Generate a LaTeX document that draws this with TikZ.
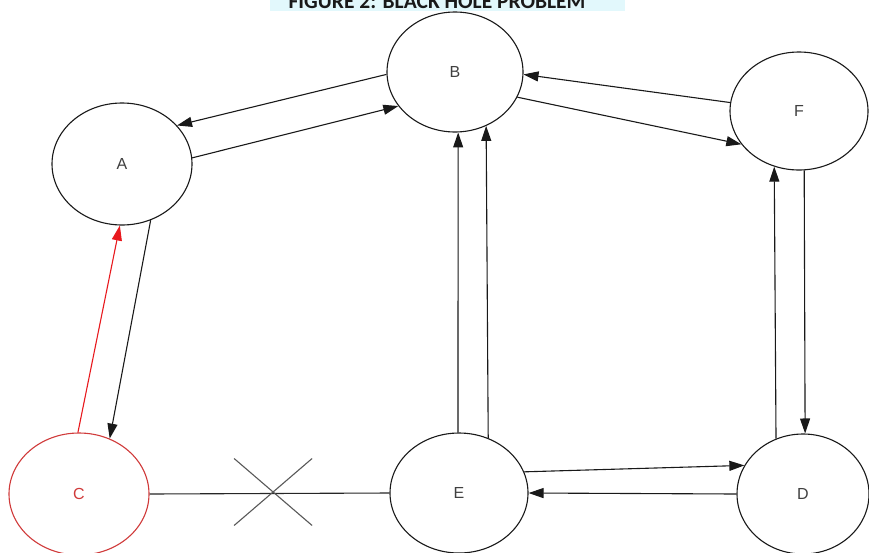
\documentclass[tikz,border=0pt]{standalone}
\usepackage{fontspec}
\setmainfont{Liberation Sans}
\newfontfamily\titlefont{Carlito}
\usetikzlibrary{shapes.geometric,arrows.meta,calc}
\definecolor{redc}{HTML}{D03A3A}
\definecolor{redarr}{HTML}{E8191E}
\definecolor{band}{HTML}{E2F8FC}
\begin{document}
\begin{tikzpicture}[x=1pt,y=-1pt,
  state/.style={ellipse,draw=black!90,line width=1.1pt,inner sep=0pt,
    minimum width=138pt,minimum height=120pt,
    font=\fontsize{16}{16}\selectfont,text=black!75},
  arr/.style={draw=black!90,line width=1.1pt,-{Triangle[length=15pt,width=10pt]}},
  redarr/.style={draw=redarr,line width=1.1pt,-{Triangle[length=15pt,width=10pt]}},
  plain/.style={draw=black!85,line width=1.1pt},
  cross/.style={draw=black!65,line width=1.1pt}]
\fill[white] (0,0) rectangle (869,552);
\useasboundingbox (0,0) rectangle (869,552);
\fill[band] (270,0) rectangle (625,11);
\node[font=\titlefont\bfseries\fontsize{21.5}{21.5}\selectfont,anchor=base,text=black!90] (title) at (437,8.5) {FIGURE 2: BLACK HOLE PROBLEM};
% nodes
\node[state,minimum width=140pt,minimum height=122pt] (A) at (122,164) {A};
\node[state,minimum width=136pt] (B) at (455,72) {B};
\node[state,minimum height=118pt] (F) at (799,111) {F};
\node[state,draw=redc,text=redc,minimum width=140pt,minimum height=122pt] (C) at (79,494) {C};
\node[state] (E) at (459,493) {E};
\node[state,minimum width=132pt] (D) at (803,494) {D};
% A <-> B
\draw[arr] (B.182.5) -- (A.35.5);
\draw[arr] (A.5) -- (B.211);
% B <-> F
\draw[arr] (F.173) -- (B.-2);
\draw[arr] (B.-22.7) -- (F.210.6);
% E -> B (two)
\draw[arr] (E.91) -- (B.273);
\draw[arr] (E.62.6) -- (B.-60.4);
% D <-> F
\draw[arr] (D.116) -- (F.246.4);
\draw[arr] (F.275.8) -- (D.88);
% E <-> D
\draw[arr] (E.18.4) -- (D.154.6);
\draw[arr] (D.180) -- (E.0);
% A <-> C
\draw[arr] (A.-63.4) -- (C.61.5);
\draw[redarr] (C.91) -- (A.268);
% C -- E broken
\draw[plain] (C.east) -- (E.west);
\coordinate (xm) at ($(C.east)!0.515!(E.west)$);
\draw[cross] ($(xm)+(-39,-35)$) -- ($(xm)+(39,32)$);
\draw[cross] ($(xm)+(-39,32)$) -- ($(xm)+(39,-35)$);
\end{tikzpicture}
\end{document}
